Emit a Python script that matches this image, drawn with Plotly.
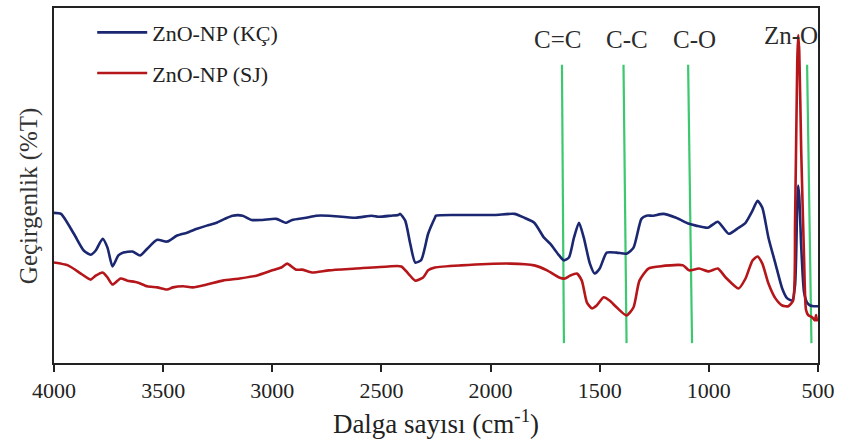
import plotly.graph_objects as go

# FTIR spectra: wavenumber (cm-1) and transmittance (arbitrary %T scale)
kc_wavenumber = [4000, 3968, 3909, 3864, 3832, 3809, 3777, 3755, 3732, 3705, 3682, 3641, 3605,
                 3573, 3527, 3482, 3436, 3391, 3345, 3300, 3255, 3218, 3182, 3136, 3095, 3045,
                 2982, 2936, 2909, 2845, 2800, 2741, 2618, 2545, 2514, 2455, 2423, 2414, 2391,
                 2368, 2345, 2318, 2286, 2255, 2250, 2136, 1982, 1891, 1845, 1800, 1755, 1727,
                 1686, 1664, 1641, 1618, 1595, 1573, 1545, 1523, 1500, 1468, 1423, 1377, 1345,
                 1309, 1286, 1255, 1209, 1150, 1091, 1059, 1005, 959, 909, 864, 832, 800, 777,
                 755, 727, 695, 664, 641, 618, 605, 595, 591, 586, 577, 564, 550, 536, 520, 500]
kc_transmittance = [42.3, 42.0, 36.4, 31.7, 30.5, 31.7, 35.0, 32.5, 27.2, 30.3, 31.1, 31.4, 30.3,
                    32.2, 34.7, 34.2, 35.9, 36.7, 37.8, 38.7, 39.5, 40.6, 41.5, 41.5, 40.3, 40.3,
                    40.6, 39.5, 40.3, 40.9, 41.5, 41.5, 40.9, 41.5, 41.2, 41.5, 41.7, 42.0, 40.1,
                    33.6, 28.3, 29.0, 36.4, 40.9, 41.5, 41.7, 41.7, 42.0, 40.9, 39.5, 35.3, 33.6,
                    30.3, 28.9, 29.7, 35.3, 39.5, 35.3, 28.0, 25.2, 26.6, 31.1, 31.1, 30.8, 32.5,
                    40.6, 41.5, 41.5, 42.0, 40.9, 39.2, 38.7, 38.1, 39.8, 36.4, 38.1, 39.5, 42.9, 45.7,
                    43.7, 35.3, 28.0, 21.0, 18.2, 17.6, 22.0, 45.0, 50.0, 47.0, 33.0, 20.0, 17.0,
                    16.2, 16.0, 16.0]

sj_wavenumber = [4000, 3936, 3877, 3832, 3809, 3777, 3755, 3732, 3695, 3664, 3618, 3573, 3527,
                 3482, 3455, 3409, 3364, 3300, 3227, 3150, 3073, 3000, 2959, 2932, 2891, 2864,
                 2818, 2741, 2618, 2468, 2409, 2377, 2345, 2309, 2286, 2255, 2136, 1909, 1800,
                 1741, 1686, 1659, 1636, 1605, 1582, 1559, 1536, 1514, 1482, 1455, 1423, 1377,
                 1345, 1318, 1277, 1227, 1118, 1091, 1045, 1000, 959, 923, 864, 832, 800, 777,
                 755, 727, 695, 664, 636, 614, 605, 595, 591, 586, 577, 564, 555, 545, 527, 514,
                 509, 505, 500]
sj_transmittance = [28.3, 27.5, 25.2, 23.5, 24.6, 25.5, 24.1, 22.1, 23.8, 23.2, 22.7, 21.6, 21.3,
                    20.7, 21.3, 21.6, 21.3, 22.1, 23.2, 23.8, 24.6, 26.1, 26.9, 28.0, 26.3, 26.3,
                    25.5, 26.1, 26.6, 27.2, 27.2, 25.2, 23.2, 24.1, 26.1, 26.9, 27.5, 28.0, 27.5,
                    26.1, 24.1, 23.8, 24.6, 25.2, 23.2, 17.1, 15.4, 16.2, 18.5, 17.6, 15.7, 13.4,
                    15.7, 23.2, 26.6, 27.2, 27.5, 26.1, 26.6, 25.8, 26.6, 24.1, 21.0, 23.8, 28.9, 30.0,
                    28.0, 22.4, 18.2, 16.2, 16.0, 17.6, 40.0, 85.0, 92.4, 88.0, 60.0, 30.0, 15.0,
                    13.5, 12.9, 12.0, 13.5, 12.0, 12.5]

# Band assignment markers: label, wavenumber at top and bottom of the marker line
band_labels = ["C=C", "C-C", "C-O", "Zn-O"]
band_top = [1673, 1391, 1095, 550]
band_bottom = [1664, 1377, 1077, 530]
band_label_x = [1695, 1377, 1068, 625]
band_y = [84.0, 5.6]
label_y = [91.0, 91.0, 91.0, 92.3]

series_names = ["ZnO-NP (KÇ)", "ZnO-NP (SJ)"]
series_colors = ["#1b2770", "#b5161a"]
band_color = "#3cc86e"

fig = go.Figure()

for top, bottom in zip(band_top, band_bottom):
    fig.add_trace(go.Scatter(x=[top, bottom], y=band_y, mode="lines",
                             line=dict(color=band_color, width=2.2),
                             showlegend=False, hoverinfo="skip"))

fig.add_trace(go.Scatter(x=kc_wavenumber, y=kc_transmittance, mode="lines",
                         name=series_names[0], legendgroup="a",
                         line=dict(color=series_colors[0], width=2.6, shape="spline", smoothing=0.6)))
fig.add_trace(go.Scatter(x=sj_wavenumber, y=sj_transmittance, mode="lines",
                         name=series_names[1], legendgroup="b",
                         line=dict(color=series_colors[1], width=2.6, shape="spline", smoothing=0.6)))

for text, x, y in zip(band_labels, band_label_x, label_y):
    fig.add_annotation(x=x, y=y, xref="x", yref="y", text=text, showarrow=False,
                       font=dict(family="Liberation Serif", size=25, color="#2b2b2b"))

# Vertical axis title placed as a rotated annotation
fig.add_annotation(x=0, y=0.47, xref="paper", yref="paper", xanchor="center", yanchor="middle",
                   xshift=-25, text="Geçirgenlik (%T)", textangle=-90, showarrow=False,
                   font=dict(family="Liberation Serif", size=25, color="#333"))

fig.update_layout(
    width=841, height=443,
    margin=dict(l=54, r=19, t=6, b=80),
    paper_bgcolor="white", plot_bgcolor="white",
    font=dict(family="Liberation Serif", color="#222222"),
    showlegend=True,
    legend=dict(x=0.05, y=0.99, xanchor="left", yanchor="top",
                font=dict(family="Liberation Serif", size=22, color="#222222"),
                itemwidth=50, tracegroupgap=9, bgcolor="rgba(0,0,0,0)"),
    xaxis=dict(range=[4000, 500], tickvals=[4000, 3500, 3000, 2500, 2000, 1500, 1000, 500],
               ticks="outside", ticklen=7, tickwidth=1.5, tickcolor="#222",
               ticklabeloverflow="allow",
               showline=True, linecolor="#222", linewidth=2, mirror=True,
               showgrid=False, zeroline=False,
               tickfont=dict(family="Liberation Serif", size=22, color="#222"),
               title=dict(text="Dalga sayısı (cm<sup>-1</sup>)", standoff=12,
                          font=dict(family="Liberation Serif", size=27, color="#222"))),
    yaxis=dict(range=[0, 100], showticklabels=False, ticks="",
               showline=True, linecolor="#222", linewidth=2, mirror=True,
               showgrid=False, zeroline=False),
)

fig.write_html("out.html")
